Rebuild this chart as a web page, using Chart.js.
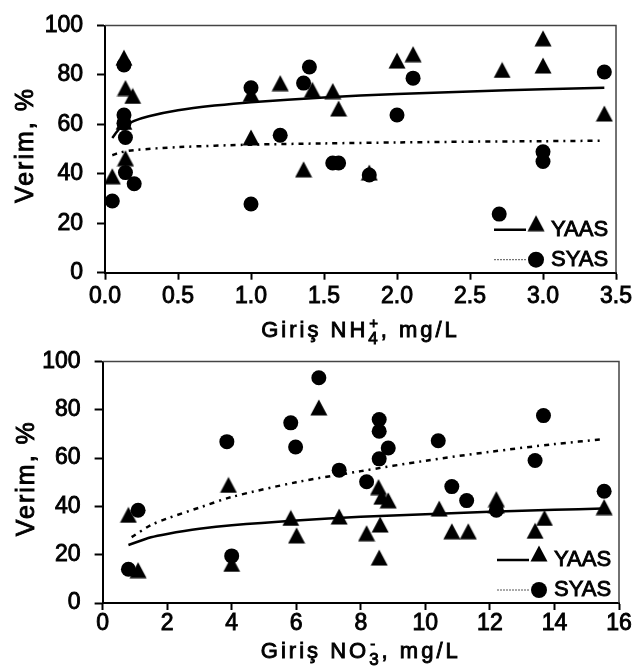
<!DOCTYPE html>
<html>
<head>
<meta charset="utf-8">
<script src="https://cdn.jsdelivr.net/npm/chart.js@4.4.1/dist/chart.umd.min.js"></script>
<style>
  html, body { margin: 0; padding: 0; background: #fff; }
  #wrap { position: relative; width: 637px; height: 671px; overflow: hidden; }
  #wrap canvas { position: absolute; left: 0; }
  #chartNH4 { top: 0; }
  #chartNO3 { top: 336px; }
</style>
</head>
<body>
<div id="wrap">
  <canvas id="chartNH4" width="637" height="345"></canvas>
  <canvas id="chartNO3" width="637" height="335"></canvas>
</div>
<script>
// Tick labels
const yieldTicks = ['0', '20', '40', '60', '80', '100'];
const nh4Ticks = ['0.0', '0.5', '1.0', '1.5', '2.0', '2.5', '3.0', '3.5'];
const no3Ticks = ['0', '2', '4', '6', '8', '10', '12', '14', '16'];

// Giriş NH4+ (mg/L) -> Verim (%), YAAS (triangles)
const nh4YaasX = [0.05, 0.13, 0.14, 0.19, 0.13, 0.14, 1.0, 1.0, 1.2, 1.36, 1.42, 1.56, 1.6, 1.81, 2.0, 2.11, 2.72, 3.0, 3.0, 3.42];
const nh4YaasY = [39, 87, 74.7, 71.5, 61, 46.3, 54.7, 72.3, 76.7, 41.8, 74, 73.5, 66.4, 40.5, 85.8, 88.4, 82, 94.8, 83.8, 64.4];
// SYAS (circles)
const nh4SyasX = [0.05, 0.13, 0.13, 0.13, 0.14, 0.14, 0.2, 1.0, 1.0, 1.2, 1.36, 1.4, 1.56, 1.6, 1.81, 2.0, 2.11, 2.7, 3.0, 3.0, 3.42];
const nh4SyasY = [29, 84, 63.8, 60.5, 54.7, 40.5, 36, 74.8, 27.8, 55.6, 76.7, 83.2, 44.4, 44.4, 39.5, 63.8, 78.7, 23.7, 48.9, 45, 81.2];
// trend curves
const nh4YaasFitX = [0.05, 0.1, 0.2, 0.3, 0.5, 0.75, 1.0, 1.5, 2.0, 2.5, 3.0, 3.42];
const nh4YaasFitY = [54.5, 58.2, 61.4, 63.3, 65.7, 67.6, 69.0, 70.9, 72.3, 73.3, 74.2, 74.8];
const nh4SyasFitX = [0.05, 0.1, 0.2, 0.5, 1.0, 1.5, 2.0, 2.5, 3.0, 3.42];
const nh4SyasFitY = [47.5, 48.6, 49.6, 50.8, 51.8, 52.3, 52.7, 53.0, 53.2, 53.4];

// Giriş NO3- (mg/L) -> Verim (%), YAAS (triangles)
const no3YaasX = [0.8, 1.1, 3.9, 4.0, 5.83, 6.01, 6.7, 7.33, 8.18, 8.55, 8.65, 8.85, 8.6, 8.57, 10.43, 10.82, 11.33, 12.2, 12.2, 13.4, 13.69, 15.54];
const no3YaasY = [36.5, 13.6, 48.9, 16.2, 35.2, 28, 81, 35.8, 28.9, 48, 44, 42.5, 32.5, 18.8, 39.1, 29.7, 29.7, 43, 40.5, 29.9, 35.2, 39.7];
// SYAS (circles)
const no3SyasX = [0.8, 1.1, 3.85, 4.0, 5.83, 5.98, 6.7, 7.33, 8.18, 8.57, 8.57, 8.85, 8.57, 10.4, 10.82, 11.28, 12.2, 13.4, 13.66, 15.54];
const no3SyasY = [14, 38.4, 66.8, 19.5, 74.6, 64.6, 93.3, 55, 50.2, 76, 71.1, 64.2, 59.7, 67.2, 48.2, 42.4, 38.4, 59, 77.6, 46.3];
// trend curves
const no3YaasFitX = [0.8, 1.5, 2, 3, 4, 6, 8, 10, 12, 14, 15.5];
const no3YaasFitY = [24, 27.2, 28.6, 30.7, 32.2, 34.2, 35.7, 36.8, 37.8, 38.6, 39.1];
const no3SyasFitX = [0.9, 1.5, 2, 3, 4, 6, 8, 10, 12, 14, 15.5];
const no3SyasFitY = [27.3, 32.3, 35, 39.5, 43.9, 50, 54.6, 58.9, 62.6, 65.8, 67.8];

const FONT = '"Liberation Sans", Arial, Helvetica, sans-serif';
const DASH = [5, 5, 2, 5];
const TEXT_STROKE = 0.9; // the scanned figure has heavy text

function pts(xs, ys) {
  return xs.map((x, i) => ({ x: x, y: ys[i] }));
}

// triangle marker centred on its box, like the spreadsheet markers
function triangleMarker(w, h) {
  const c = document.createElement('canvas');
  c.width = w; c.height = h;
  const g = c.getContext('2d');
  g.fillStyle = '#000';
  g.beginPath();
  g.moveTo(w / 2, 0.5);
  g.lineTo(w - 0.5, h - 0.5);
  g.lineTo(0.5, h - 0.5);
  g.closePath();
  g.fill();
  return c;
}
const TRI = triangleMarker(18, 17);

function heavyText(ctx, s, x, y) {
  ctx.fillText(s, x, y);
  ctx.lineWidth = TEXT_STROKE;
  ctx.strokeStyle = '#000';
  ctx.strokeText(s, x, y);
}

// text with a subscript and a superscript stacked after the main part
function drawAxisTitle(ctx, t, cx, baseY) {
  ctx.save();
  ctx.fillStyle = '#000';
  ctx.textAlign = 'left';
  ctx.textBaseline = 'alphabetic';
  ctx.letterSpacing = '3px';
  ctx.font = '22px ' + FONT;
  const wMain = ctx.measureText(t.main).width;
  const wTail = ctx.measureText(t.tail).width;
  ctx.font = '17px ' + FONT;
  const wSub = ctx.measureText(t.sub).width;
  ctx.font = '15px ' + FONT;
  const wSup = ctx.measureText(t.sup).width;
  const wMid = Math.max(wSub, wSup);
  let x = cx - (wMain + wMid + wTail) / 2;
  ctx.font = '22px ' + FONT;
  heavyText(ctx, t.main, x, baseY);
  x += wMain;
  ctx.font = '17px ' + FONT;
  heavyText(ctx, t.sub, x, baseY + 7);
  ctx.font = '15px ' + FONT;
  heavyText(ctx, t.sup, x + 1, baseY - 9);
  x += wMid;
  ctx.font = '22px ' + FONT;
  heavyText(ctx, t.tail, x, baseY);
  ctx.restore();
}

function extras(cfg) {
  return {
    id: 'extras',
    afterDraw(chart) {
      const ctx = chart.ctx;
      const a = chart.chartArea;
      ctx.save();
      // top and right edges of the plot box
      ctx.strokeStyle = '#444';
      ctx.lineWidth = 1.5;
      ctx.beginPath();
      ctx.moveTo(a.left, a.top);
      ctx.lineTo(a.right, a.top);
      ctx.lineTo(a.right, a.bottom);
      ctx.stroke();

      // y title
      ctx.save();
      ctx.translate(cfg.yTitleX, (a.top + a.bottom) / 2 - 4);
      ctx.rotate(-Math.PI / 2);
      ctx.fillStyle = '#000';
      ctx.font = '25px ' + FONT;
      ctx.letterSpacing = '2px';
      ctx.textAlign = 'center';
      ctx.textBaseline = 'alphabetic';
      heavyText(ctx, 'Verim, %', 0, 0);
      ctx.restore();

      // x title
      drawAxisTitle(ctx, cfg.xTitle, (a.left + a.right) / 2, cfg.xTitleY);

      // legend inside the plot, bottom right
      const lx = a.right - 122;
      const y1 = a.bottom - 43;
      const y2 = a.bottom - 13;
      ctx.strokeStyle = '#000';
      ctx.lineWidth = 2.5;
      ctx.beginPath();
      ctx.moveTo(lx, y1);
      ctx.lineTo(lx + 32, y1);
      ctx.stroke();
      ctx.drawImage(TRI, lx + 33, y1 - 15);
      ctx.strokeStyle = '#555';
      ctx.lineWidth = 1;
      ctx.setLineDash([2, 1]);
      ctx.beginPath();
      ctx.moveTo(lx, y2);
      ctx.lineTo(lx + 32, y2);
      ctx.stroke();
      ctx.setLineDash([]);
      ctx.fillStyle = '#000';
      ctx.beginPath();
      ctx.arc(lx + 42, y2, 8, 0, Math.PI * 2);
      ctx.fill();
      ctx.font = '22px ' + FONT;
      ctx.textAlign = 'left';
      ctx.textBaseline = 'middle';
      heavyText(ctx, 'YAAS', lx + 57, y1);
      heavyText(ctx, 'SYAS', lx + 57, y2);
      ctx.restore();
    }
  };
}

function makeChart(id, cfg) {
  return new Chart(document.getElementById(id), {
    type: 'scatter',
    data: {
      datasets: [
        { data: pts(cfg.yaasX, cfg.yaasY), pointStyle: TRI, pointRadius: 9, backgroundColor: '#000', borderColor: '#000' },
        { data: pts(cfg.syasX, cfg.syasY), pointStyle: 'circle', pointRadius: 7.5, backgroundColor: '#000', borderColor: '#000', borderWidth: 0 },
        { data: pts(cfg.yaasFitX, cfg.yaasFitY), showLine: true, pointRadius: 0, borderColor: '#000', borderWidth: 2.5, tension: 0.3 },
        { data: pts(cfg.syasFitX, cfg.syasFitY), showLine: true, pointRadius: 0, borderColor: '#000', borderWidth: 2.5, borderDash: DASH, tension: 0.3 }
      ]
    },
    options: {
      responsive: false,
      animation: false,
      devicePixelRatio: 1,
      layout: { padding: { left: 0, right: cfg.padRight, top: cfg.padTop, bottom: 0 } },
      plugins: { legend: { display: false }, tooltip: { enabled: false } },
      scales: {
        x: {
          type: 'linear',
          min: cfg.xMin,
          max: cfg.xMax,
          afterFit: s => { s.height = cfg.xAxisHeight; },
          ticks: {
            stepSize: cfg.xStep,
            autoSkip: false,
            maxRotation: 0,
            padding: cfg.xTickPad,
            color: '#000',
            textStrokeColor: '#000',
            textStrokeWidth: TEXT_STROKE,
            font: { family: FONT, size: 23, lineHeight: 1 },
            callback: v => cfg.xTicks[Math.round((v - cfg.xMin) / cfg.xStep)]
          },
          grid: { drawOnChartArea: false, drawTicks: true, tickLength: 7, tickColor: '#000', tickWidth: 2 },
          border: { display: true, color: '#000', width: 2 }
        },
        y: {
          type: 'linear',
          min: 0,
          max: 100,
          afterFit: s => { s.width = cfg.yAxisWidth; },
          ticks: {
            stepSize: 20,
            autoSkip: false,
            padding: 14,
            color: '#000',
            textStrokeColor: '#000',
            textStrokeWidth: TEXT_STROKE,
            font: { family: FONT, size: 23, lineHeight: 1 },
            callback: v => yieldTicks[Math.round(v / 20)]
          },
          grid: { drawOnChartArea: false, drawTicks: true, tickLength: 8, tickColor: '#000', tickWidth: 2 },
          border: { display: true, color: '#000', width: 2 }
        }
      }
    },
    plugins: [extras(cfg)]
  });
}

makeChart('chartNH4', {
  yaasX: nh4YaasX, yaasY: nh4YaasY, syasX: nh4SyasX, syasY: nh4SyasY,
  yaasFitX: nh4YaasFitX, yaasFitY: nh4YaasFitY, syasFitX: nh4SyasFitX, syasFitY: nh4SyasFitY,
  xMin: 0, xMax: 3.5, xStep: 0.5, xTicks: nh4Ticks,
  padRight: 20, padTop: 15, xAxisHeight: 72.3, yAxisWidth: 105, xTickPad: 5,
  xTitle: { main: 'Giriş NH', sub: '4', sup: '+', tail: ', mg/L' }, xTitleY: 337,
  yTitleX: 33
});

makeChart('chartNO3', {
  yaasX: no3YaasX, yaasY: no3YaasY, syasX: no3SyasX, syasY: no3SyasY,
  yaasFitX: no3YaasFitX, yaasFitY: no3YaasFitY, syasFitX: no3SyasFitX, syasFitY: no3SyasFitY,
  xMin: 0, xMax: 16, xStep: 2, xTicks: no3Ticks,
  padRight: 18, padTop: 12.3, xAxisHeight: 68, yAxisWidth: 102.6, xTickPad: 2,
  xTitle: { main: 'Giriş NO', sub: '3', sup: '-', tail: ', mg/L' }, xTitleY: 322,
  yTitleX: 34
});
</script>
</body>
</html>
